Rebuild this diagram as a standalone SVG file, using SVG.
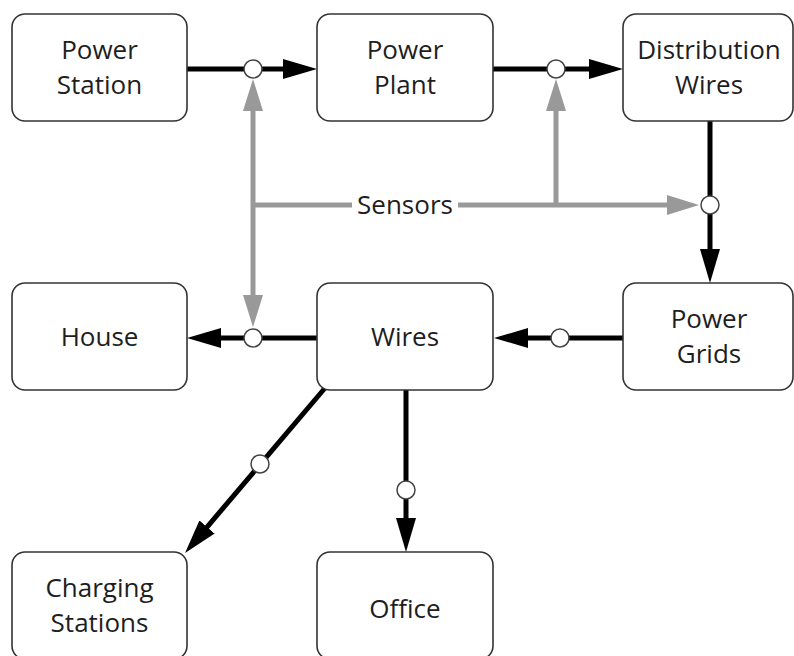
<svg xmlns="http://www.w3.org/2000/svg" width="794" height="656" viewBox="0 0 794 656">
  <defs>
    <marker id="arrowBlack" markerUnits="userSpaceOnUse" markerWidth="35" markerHeight="21" refX="1" refY="10" orient="auto-start-reverse">
      <path d="M0,0 L34,10 L0,20 z" fill="#000"/>
    </marker>
    <marker id="arrowGray" markerUnits="userSpaceOnUse" markerWidth="34" markerHeight="22" refX="1" refY="10" orient="auto-start-reverse">
      <path d="M0,0 L32,10 L0,20 z" fill="#999"/>
    </marker>
  </defs>
  <style>
    .box { fill: #fff; stroke: #333; stroke-width: 1.6; }
    .label { font-family: "Open Sans", "Noto Sans", "Liberation Sans", sans-serif; font-size: 26px; fill: #1e1e1e; text-anchor: middle; }
    .flow { fill: none; stroke: #000; stroke-width: 5; marker-end: url(#arrowBlack); }
    .sense { fill: none; stroke: #999; stroke-width: 5; }
    .sense.arrow { marker-end: url(#arrowGray); }
    .sense.both { marker-start: url(#arrowGray); marker-end: url(#arrowGray); }
    .junction { fill: #fff; stroke: #444; stroke-width: 1.5; }
  </style>
  <rect width="794" height="656" fill="#fff"/>

  <!-- connectors: power flow (black) and sensor links (gray) -->
  <g id="connectors">
    <path class="flow" d="M187,69 H284"/>
    <path class="flow" d="M493,69 H590"/>
    <path class="flow" d="M710,121 V250"/>
    <path class="flow" d="M623,338 H527"/>
    <path class="flow" d="M317,338 H220"/>
    <path class="flow" d="M325,388 L206.4,527.8"/>
    <path class="flow" d="M406,390 V519"/>

    <path class="sense both" d="M253,110 V296"/>
    <path class="sense" d="M253,205 H352"/>
    <path class="sense arrow" d="M458,205 H668"/>
    <path class="sense arrow" d="M556,207 V110"/>
    <text class="label" x="405" y="214">Sensors</text>

    <circle class="junction" cx="253" cy="69" r="9"/>
    <circle class="junction" cx="556" cy="69" r="9"/>
    <circle class="junction" cx="710" cy="205" r="9"/>
    <circle class="junction" cx="560" cy="338" r="9"/>
    <circle class="junction" cx="253" cy="338" r="9"/>
    <circle class="junction" cx="260" cy="464" r="9"/>
    <circle class="junction" cx="406" cy="490" r="9"/>
  </g>

  <g id="power-station">
    <rect class="box" x="12" y="14" width="175" height="107" rx="13"/>
    <text class="label" x="99.5" y="59">Power</text>
    <text class="label" x="99.5" y="94">Station</text>
  </g>
  <g id="power-plant">
    <rect class="box" x="317" y="14" width="176" height="107" rx="13"/>
    <text class="label" x="405" y="59">Power</text>
    <text class="label" x="405" y="94">Plant</text>
  </g>
  <g id="distribution-wires">
    <rect class="box" x="623" y="14" width="170" height="107" rx="13"/>
    <text class="label" x="709" y="59">Distribution</text>
    <text class="label" x="709" y="94">Wires</text>
  </g>
  <g id="house">
    <rect class="box" x="12" y="283" width="175" height="107" rx="13"/>
    <text class="label" x="99.5" y="346">House</text>
  </g>
  <g id="wires">
    <rect class="box" x="317" y="283" width="176" height="107" rx="13"/>
    <text class="label" x="405" y="346">Wires</text>
  </g>
  <g id="power-grids">
    <rect class="box" x="623" y="283" width="170" height="107" rx="13"/>
    <text class="label" x="709" y="328">Power</text>
    <text class="label" x="709" y="363">Grids</text>
  </g>
  <g id="charging-stations">
    <rect class="box" x="12" y="552" width="175" height="107" rx="13"/>
    <text class="label" x="99.5" y="597">Charging</text>
    <text class="label" x="99.5" y="632">Stations</text>
  </g>
  <g id="office">
    <rect class="box" x="317" y="552" width="176" height="107" rx="13"/>
    <text class="label" x="405" y="618">Office</text>
  </g>
</svg>
